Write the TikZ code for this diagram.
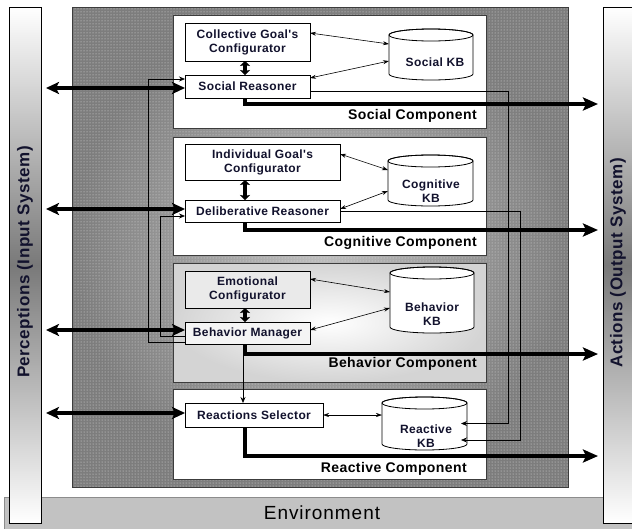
\documentclass[tikz,border=0pt]{standalone}
\usepackage{fontspec}
\setmainfont{Liberation Sans}
\newfontfamily\boxfont[LetterSpace=3]{Liberation Sans}
\newfontfamily\envfont[LetterSpace=5]{Liberation Sans}
\usetikzlibrary{arrows.meta,shadings,patterns,calc,fit}
\definecolor{txt}{RGB}{18,18,45}
\definecolor{bgout}{RGB}{125,125,125}
\definecolor{bgin}{RGB}{190,190,190}
\definecolor{envc}{RGB}{194,194,194}
\definecolor{bcomp}{RGB}{212,212,212}
\definecolor{emof}{RGB}{234,234,234}
\definecolor{bmf}{RGB}{244,244,244}
\definecolor{edgec}{RGB}{60,60,60}
\newcommand\kbcyl[8]{%
  \path[draw=black, line width=0.8pt, fill=white]
    (#2,#3+6) -- (#2,#5-6) arc[start angle=180, end angle=0, x radius={(#4-#2)/2}, y radius=6]
    -- (#4,#3+6) arc[start angle=0, end angle=-180, x radius={(#4-#2)/2}, y radius=6] -- cycle;
  \draw[line width=0.8pt] ({(#2+#4)/2},#3+6) ellipse[x radius={(#4-#2)/2}, y radius=6];
  \coordinate (#1-nw) at (#2,#3);
  \coordinate (#1-se) at (#4,#5);
  \node[fit=(#1-nw)(#1-se), inner sep=0pt, outer sep=0pt] (#1) {};
  \node[kbtext] (#1-t) at (#6,#7) {#8};
}
\begin{document}
\begin{tikzpicture}[x=1pt, y=-1pt,
  box/.style={draw=black, line width=0.8pt, fill=white, font=\boxfont\bfseries\fontsize{12}{14}\selectfont,
    text=txt, align=center, inner sep=0pt, outer sep=0pt, anchor=north west},
  kbtext/.style={font=\boxfont\bfseries\fontsize{12}{14}\selectfont, text=txt, align=center, inner sep=0pt},
  comp/.style={draw=edgec, line width=0.8pt, fill=white, inner sep=0pt, outer sep=0pt, anchor=north west},
  complab/.style={font=\boxfont\bfseries\fontsize{14}{16}\selectfont, text=black, anchor=east, inner sep=0pt},
  sidelab/.style={font=\boxfont\bfseries\fontsize{17}{19}\selectfont, text=txt, rotate=90, inner sep=0pt},
  side/.style={draw=black, line width=0.8pt, top color=white, bottom color=white, middle color=gray!95!black,
    inner sep=0pt, outer sep=0pt, anchor=north west},
  bigarr/.style={line width=4.5pt, {Stealth[length=13pt,width=12pt,inset=3pt]}-{Stealth[length=13pt,width=12pt,inset=3pt]}},
  outarr/.style={line width=4.5pt, -{Stealth[length=15pt,width=13pt,inset=3pt]}},
  vdarr/.style={line width=3.5pt, {Stealth[length=5pt,width=10pt,inset=1pt]}-{Stealth[length=5pt,width=10pt,inset=1pt]}},
  thinarr/.style={line width=0.6pt, {Stealth[length=6pt,width=4pt]}-{Stealth[length=6pt,width=4pt]}},
  fb/.style={line width=0.7pt, -{Stealth[length=6pt,width=5pt]}}
]
\useasboundingbox (0,0) rectangle (632,528);
\fill[white] (0,0) rectangle (632,528);
% environment
\node[fill=envc, draw=gray!90, line width=0.6pt, anchor=north west, minimum width=640pt, minimum height=40pt, inner sep=0pt] (env) at (4,497) {};
\node[font=\envfont\fontsize{19}{21}\selectfont, text=black, inner sep=0pt] (envt) at (322,513) {Environment};
% side panels
\node[side, minimum width=32pt, minimum height=516pt] (perc) at (9,7) {};
\node[sidelab] (perct) at (25,262) {Perceptions (Input System)};
\node[side, minimum width=40pt, minimum height=516pt] (act) at (603,7) {};
\node[sidelab] (actt) at (618,263) {Actions (Output System)};
% background
\node[anchor=north west, minimum width=496pt, minimum height=480pt, inner sep=0pt, outer sep=0pt,
  draw=edgec, line width=0.6pt, inner color=bgin, outer color=bgout] (bg) at (72,7) {};
\fill[pattern=dots, pattern color=white!75!gray] (bg.north west) rectangle (bg.south east);
\draw[edgec, line width=0.6pt] (bg.north west) rectangle (bg.south east);
% components
\node[comp, minimum width=313pt, minimum height=113pt] (cS) at (173,15) {};
\node[comp, minimum width=313pt, minimum height=118pt] (cC) at (173,137) {};
\node[comp, minimum width=313pt, minimum height=119pt, fill=none, inner color=white, outer color=bcomp] (cB) at (173,263) {};
\node[comp, minimum width=313pt, minimum height=90pt] (cR) at (173,389) {};
\node[complab] (lS) at (477,116) {Social Component};
\node[complab] (lC) at (477,243) {Cognitive Component};
\node[complab] (lB) at (477,364) {Behavior Component};
\node[complab] (lR) at (467,469) {Reactive Component};
% boxes
\node[box, minimum width=125pt, minimum height=38pt] (cfgS) at (185,23) {Collective Goal's\\Configurator};
\node[box, minimum width=125pt, minimum height=23pt] (srS) at (185,75) {Social Reasoner};
\node[box, minimum width=155pt, minimum height=36pt] (cfgC) at (185,144) {Individual Goal's\\Configurator};
\node[box, minimum width=155pt, minimum height=22pt] (drC) at (185,200) {Deliberative Reasoner};
\node[box, minimum width=125pt, minimum height=37pt, fill=emof] (cfgB) at (185,271) {Emotional\\Configurator};
\node[box, minimum width=125pt, minimum height=22pt, fill=bmf] (bmB) at (185,322) {Behavior Manager};
\node[box, minimum width=138pt, minimum height=24pt] (rsR) at (185,403) {Reactions Selector};
% knowledge bases
\kbcyl{kbS}{389}{29}{473}{80}{435}{62}{Social KB}
\kbcyl{kbC}{388}{155}{473}{206}{431}{191}{Cognitive\\KB}
\kbcyl{kbB}{390}{267}{474}{333}{432}{314}{Behavior\\KB}
\kbcyl{kbR}{382}{397}{467}{450}{426}{436}{Reactive\\KB}
% thin KB links
\draw[thinarr] ($(cfgS.north east)+(0,10)$) -- ($(kbS.north west)+(0,15)$);
\draw[thinarr] ($(srS.north east)+(0,3)$) -- ($(kbS.north west)+(0,32)$);
\draw[thinarr] ($(cfgC.north east)+(0,10)$) -- ($(kbC.north west)+(0,15)$);
\draw[thinarr] ($(drC.north east)+(0,9)$) -- ($(kbC.north west)+(0,36)$);
\draw[thinarr] ($(cfgB.north east)+(0,8)$) -- ($(kbB.north west)+(0,25)$);
\draw[thinarr] ($(bmB.north east)+(0,8)$) -- ($(kbB.north west)+(0,41)$);
\draw[thinarr] (rsR.east) -- (kbR.west |- rsR.east);
% feedback lines
\coordinate (fx1) at (508,0);
\coordinate (fx2) at (520,0);
\coordinate (fx3) at (148,0);
\coordinate (fx4) at (160,0);
\draw[fb] ($(srS.east)+(0,4.5)$) coordinate (a0) -- (a0 -| fx1) |- ($(kbR.east)+(-6,0)$);
\draw[fb] (drC.east) coordinate (b0) -- (b0 -| fx2) |- ($(kbR.east)+(-6,16.5)$);
\draw[fb] ($(bmB.south west)+(0,-2)$) coordinate (c0) -- (c0 -| fx3) |- ($(srS.west)+(0,-7.5)$);
\draw[fb] ($(bmB.south west)+(0,-8)$) coordinate (d0) -- (d0 -| fx4) |- ($(drC.west)+(0,5)$);
\draw[fb] ($(bmB.south west)+(58,0)$) coordinate (e0) -- (e0 |- rsR.north);
% vertical config <-> reasoner
\draw[vdarr] ($(cfgS.south west)+(60,0)$) -- ($(srS.north west)+(60,0)$);
\draw[vdarr] ($(cfgC.south west)+(60,0)$) -- ($(drC.north west)+(60,0)$);
\draw[vdarr] ($(cfgB.south west)+(60,0)$) -- ($(bmB.north west)+(60,0)$);
% perception arrows
\draw[bigarr] ($(perc.east |- srS.west)+(5,1.5)$) -- ($(srS.west)+(0,1.5)$);
\draw[bigarr] ($(perc.east |- drC.west)+(5,-2)$) -- ($(drC.west)+(0,-2)$);
\draw[bigarr] ($(perc.east |- bmB.west)+(5,-3)$) -- ($(bmB.west)+(0,-3)$);
\draw[bigarr] ($(perc.east |- rsR.west)+(5,-2)$) -- ($(rsR.west)+(0,-2)$);
% action arrows
\draw[outarr] ($(srS.south west)+(60,0)$) -- ++(0,6) coordinate (o1) -- ($(o1 -| act.west)+(-5,0)$);
\draw[outarr] ($(drC.south west)+(60,0)$) -- ++(0,8) coordinate (o2) -- ($(o2 -| act.west)+(-5,0)$);
\draw[outarr] ($(bmB.south west)+(60,0)$) -- ++(0,10) coordinate (o3) -- ($(o3 -| act.west)+(-5,0)$);
\draw[outarr] ($(rsR.south west)+(60,0)$) -- ++(0,29) coordinate (o4) -- ($(o4 -| act.west)+(-5,0)$);
\end{tikzpicture}
\end{document}
